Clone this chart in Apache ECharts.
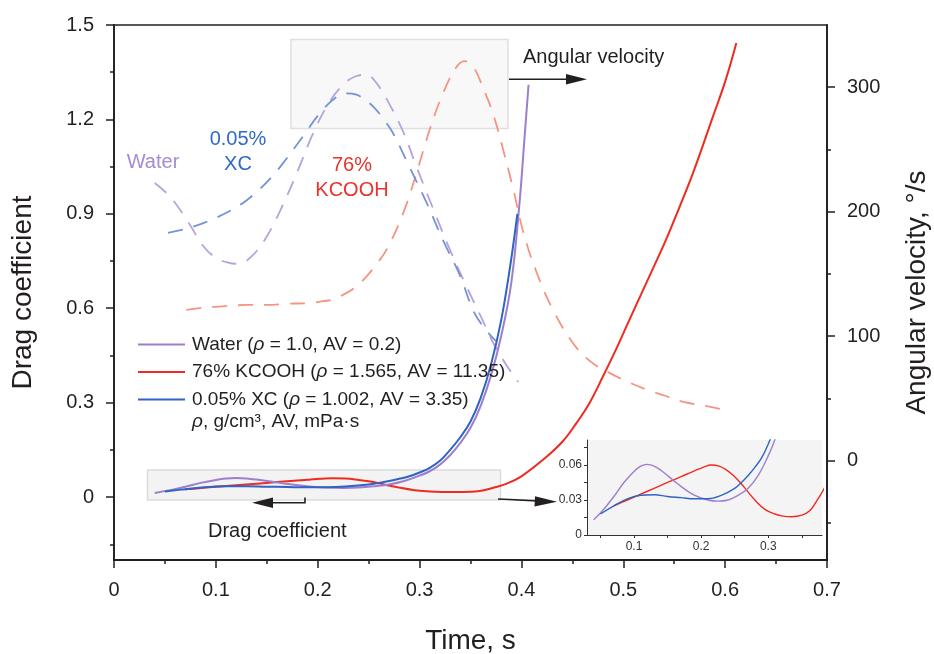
<!DOCTYPE html>
<html>
<head>
<meta charset="utf-8">
<script src="https://cdn.jsdelivr.net/npm/echarts@6/dist/echarts.min.js"></script>
<style>
html,body{margin:0;padding:0;background:#fff;}
#chart{width:934px;height:654px;}
</style>
</head>
<body>
<div id="chart"></div>
<script>
// ---------- data ----------
// Drag coefficient (left axis, solid lines)
const tWater  = [0.040,0.055,0.070,0.085,0.100,0.110,0.120,0.130,0.140,0.152,0.164,0.189,0.210,0.225,0.240,0.255,0.270,0.285,0.300,0.310,0.320,0.330,0.340,0.350,0.360,0.370,0.380,0.390,0.398,0.403,0.407];
const cdWater = [0.013,0.022,0.033,0.045,0.0545,0.059,0.0605,0.059,0.0555,0.050,0.0443,0.0343,0.030,0.029,0.030,0.034,0.040,0.051,0.068,0.082,0.103,0.133,0.172,0.220,0.290,0.385,0.510,0.680,0.930,1.140,1.310];

const tKcooh  = [0.070,0.090,0.110,0.130,0.150,0.170,0.190,0.203,0.215,0.227,0.237,0.250,0.264,0.280,0.295,0.310,0.322,0.335,0.350,0.362,0.374,0.385,0.400,0.421,0.440,0.454,0.467,0.480,0.493,0.506,0.524,0.542,0.555,0.5685,0.588,0.600,0.611];
const cdKcooh = [0.025,0.030,0.035,0.040,0.045,0.050,0.055,0.058,0.060,0.059,0.056,0.050,0.041,0.030,0.022,0.018,0.0162,0.0157,0.017,0.021,0.031,0.042,0.066,0.118,0.175,0.235,0.300,0.383,0.470,0.563,0.690,0.818,0.920,1.030,1.209,1.320,1.443];

const tXc  = [0.050,0.070,0.090,0.110,0.130,0.150,0.170,0.190,0.210,0.230,0.250,0.260,0.270,0.280,0.290,0.300,0.310,0.320,0.330,0.340,0.350,0.360,0.370,0.380,0.389,0.396];
const cdXc = [0.018,0.025,0.031,0.034,0.0345,0.033,0.032,0.031,0.031,0.034,0.040,0.045,0.051,0.058,0.066,0.078,0.093,0.115,0.150,0.190,0.240,0.315,0.420,0.560,0.735,0.900];

// Angular velocity (right axis, dashed lines)
const tWaterAV = [0.040,0.055,0.071,0.088,0.100,0.112,0.122,0.135,0.150,0.165,0.180,0.195,0.210,0.225,0.238,0.248,0.258,0.270,0.284,0.297,0.313,0.330,0.346,0.360,0.372,0.385,0.397];
const avWater  = [223,212,194,172,163,159,158,164,180,204,232,262,286,302,309,310,303,287,264,236,203,169,140,116,95,77,63];

const tKcoohAV = [0.071,0.090,0.110,0.130,0.150,0.170,0.192,0.205,0.215,0.228,0.238,0.248,0.258,0.268,0.284,0.297,0.310,0.323,0.336,0.344,0.353,0.362,0.372,0.382,0.392,0.402,0.415,0.431,0.450,0.467,0.485,0.505,0.523,0.541,0.559,0.580,0.603];
const avKcooh  = [121,123,124,125,125,126,126.5,128,129.5,134.5,140,148,158,170,199,231,266,295,316,321,316,300,279,250,218,183,151,121,95,80,71,63,57,52,47,44,40];

const tXcAV = [0.053,0.070,0.085,0.100,0.117,0.130,0.143,0.155,0.166,0.186,0.202,0.218,0.228,0.238,0.246,0.255,0.265,0.274,0.290,0.307,0.323,0.340,0.353,0.365,0.375];
const avXc  = [183,186,190,195,202,209,218,228,239,261,279,292,295,294,290,284,274,263,236,207,177,148,120,105,96];

// tick values
const leftTicks   = [0,0.3,0.6,0.9,1.2,1.5];
const leftMinor   = [-0.15,0.15,0.45,0.75,1.05,1.35];
const rightTicks  = [0,100,200,300];
const rightMinor  = [-50,50,150,250];
const insetYLabels = [0,0.03,0.06];
const insetYTicks  = [0,0.015,0.03,0.045,0.06,0.075];
const insetXLabels = [0.1,0.2,0.3];
const insetXTicks  = [0.05,0.1,0.15,0.2,0.25,0.3,0.35];

const seriesNames = ['Water','76% KCOOH','0.05% XC'];
const legendLabels = {
  'Water': '{n|Water (}{i|ρ}{n| = 1.0, AV = 0.2)}',
  '76% KCOOH': '{n|76% KCOOH (}{i|ρ}{n| = 1.565, AV = 11.35)}',
  '0.05% XC': '{n|0.05% XC (}{i|ρ}{n| = 1.002, AV = 3.35)}'
};

// ---------- chart ----------
const pairs = (ts, vs) => ts.map((t, i) => [t, vs[i]]);
const FONT = '"Liberation Sans", Arial, Helvetica, sans-serif';
const INK = '#231f20';
const C = {water:'#9d7fcb', kcooh:'#ee2b20', xc:'#2f63c4',
           waterD:'#b7a2db', kcoohD:'#f59482', xcD:'#7593d8'};
const dash = [15, 11];
const fmt1 = v => (Math.abs(v) < 1e-9 ? '0' : v.toFixed(1));
const fmt2 = v => (Math.abs(v) < 1e-9 ? '0' : v.toFixed(2));

function solid(name, data, color, xi, yi, w) {
  return {name, type:'line', xAxisIndex:xi, yAxisIndex:yi, data, smooth:0.4,
    symbol:'none', lineStyle:{color, width:w}, itemStyle:{color}, z:3, silent:true};
}
function dashed(name, data, color) {
  return {name, type:'line', xAxisIndex:0, yAxisIndex:2, data, smooth:0.4,
    symbol:'none', lineStyle:{color, width:1.8, type:dash}, itemStyle:{color}, z:2, silent:true};
}

const chart = echarts.init(document.getElementById('chart'), null, {renderer:'canvas'});

const arrowHead = (tip, dir) => {
  // dir: 1 = right, -1 = left
  const back = tip[0] - dir * 21;
  return [[tip[0], tip[1]], [back, tip[1] - 5.2], [back, tip[1] + 5.2]];
};

chart.setOption({
  animation: false,
  backgroundColor: '#fff',
  textStyle: {fontFamily: FONT},
  grid: [
    {left:114, top:25, width:713, height:535, outerBoundsMode:'none', containLabel:false,
     show:true, borderColor:INK, borderWidth:1.5, backgroundColor:'transparent'},
    {left:587, top:440, width:235, height:95, outerBoundsMode:'none', containLabel:false,
     show:true, borderWidth:0, backgroundColor:'#f4f4f4'}
  ],
  xAxis: [
    {gridIndex:0, type:'value', min:0, max:0.7, interval:0.1,
     axisLine:{onZero:false, lineStyle:{color:INK, width:1.8}},
     axisTick:{length:8, lineStyle:{color:INK, width:1.5}},
     minorTick:{show:true, splitNumber:2, length:4, lineStyle:{color:INK, width:1.5}},
     splitLine:{show:false}, minorSplitLine:{show:false},
     axisLabel:{fontSize:20, color:INK, margin:20, fontFamily:FONT, formatter:fmt1},
     name:'Time, s', nameLocation:'middle', nameGap:67,
     nameTextStyle:{fontSize:28, color:INK, fontFamily:FONT}},
    {gridIndex:1, type:'value', min:0.03, max:0.38,
     axisLine:{onZero:false, lineStyle:{color:'#333', width:1}},
     axisTick:{customValues:insetXTicks, length:3, lineStyle:{color:'#333', width:1}},
     splitLine:{show:false},
     axisLabel:{customValues:insetXLabels, fontSize:12, color:'#333', margin:6, fontFamily:FONT, formatter:fmt1}}
  ],
  yAxis: [
    {gridIndex:0, type:'value', position:'left', min:-0.2, max:1.5,
     axisLine:{show:true, onZero:false, lineStyle:{color:INK, width:1.8}},
     axisTick:{show:true, customValues:leftTicks, length:8, lineStyle:{color:INK, width:1.5}},
     axisLabel:{customValues:leftTicks, fontSize:20, color:INK, margin:20, fontFamily:FONT, formatter:fmt1},
     splitLine:{show:false},
     name:'Drag coefficient', nameLocation:'middle', nameGap:77, nameRotate:90,
     nameTextStyle:{fontSize:28, color:INK, fontFamily:FONT}},
    {gridIndex:0, type:'value', position:'left', min:-0.2, max:1.5,
     axisLine:{show:false, onZero:false},
     axisTick:{show:true, customValues:leftMinor, length:4, lineStyle:{color:INK, width:1.5}},
     axisLabel:{show:false}, splitLine:{show:false}},
    {gridIndex:0, type:'value', position:'right', min:-80, max:350,
     axisLine:{show:true, onZero:false, lineStyle:{color:INK, width:1.8}},
     axisTick:{show:true, customValues:rightTicks, length:8, lineStyle:{color:INK, width:1.5}},
     axisLabel:{customValues:rightTicks, fontSize:20, color:INK, margin:20, fontFamily:FONT},
     splitLine:{show:false},
     name:'Angular velocity, °/s', nameLocation:'middle', nameGap:76, nameRotate:90,
     nameTextStyle:{fontSize:28, color:INK, fontFamily:FONT}},
    {gridIndex:0, type:'value', position:'right', min:-80, max:350,
     axisLine:{show:false, onZero:false},
     axisTick:{show:true, customValues:rightMinor, length:4, lineStyle:{color:INK, width:1.5}},
     axisLabel:{show:false}, splitLine:{show:false}},
    {gridIndex:1, type:'value', min:0, max:0.0814,
     axisLine:{show:true, onZero:false, lineStyle:{color:'#333', width:1}},
     axisTick:{show:true, customValues:insetYTicks, length:3, lineStyle:{color:'#333', width:1}},
     axisLabel:{customValues:insetYLabels, fontSize:12, color:'#333', margin:5, fontFamily:FONT, formatter:fmt2},
     splitLine:{show:false}}
  ],
  legend: {
    data: seriesNames, orient:'vertical', left:133, top:330,
    icon:'rect', itemWidth:47, itemHeight:2, itemGap:8.5, selectedMode:false,
    formatter: n => legendLabels[n],
    textStyle: {fontSize:19, color:INK, fontFamily:FONT, padding:[0,0,0,2],
      rich: {n:{fontSize:19, color:INK, fontFamily:FONT},
             i:{fontSize:19, color:INK, fontFamily:FONT, fontStyle:'italic'}}}
  },
  series: [
    dashed('Water AV', pairs(tWaterAV, avWater), C.waterD),
    dashed('76% KCOOH AV', pairs(tKcoohAV, avKcooh), C.kcoohD),
    dashed('0.05% XC AV', pairs(tXcAV, avXc), C.xcD),
    solid('76% KCOOH', pairs(tKcooh, cdKcooh), C.kcooh, 0, 0, 2),
    solid('Water', pairs(tWater, cdWater), C.water, 0, 0, 2),
    solid('0.05% XC', pairs(tXc, cdXc), C.xc, 0, 0, 2),
    solid('76% KCOOH', pairs(tKcooh, cdKcooh), C.kcooh, 1, 4, 1.4),
    solid('Water', pairs(tWater, cdWater), C.water, 1, 4, 1.4),
    solid('0.05% XC', pairs(tXc, cdXc), C.xc, 1, 4, 1.4)
  ],
  graphic: [
    {type:'rect', z:1, silent:true, shape:{x:291, y:39.5, width:217, height:89},
     style:{fill:'#f8f8f8', stroke:'#e0e0e0', lineWidth:1.5}},
    {type:'rect', z:1, silent:true, shape:{x:147.5, y:470, width:353, height:30},
     style:{fill:'#f3f3f3', stroke:'#dcdcdc', lineWidth:1.5}},
    // series annotations
    {type:'text', z:5, style:{text:'Water', x:153, y:162, align:'center', verticalAlign:'middle', fontSize:20, fontFamily:FONT, fill:'#a68bd2'}},
    {type:'text', z:5, style:{text:'0.05%\nXC', x:238, y:152, align:'center', verticalAlign:'middle', fontSize:20, lineHeight:24.5, fontFamily:FONT, fill:'#2e6bc6'}},
    {type:'text', z:5, style:{text:'76%\nKCOOH', x:352, y:178, align:'center', verticalAlign:'middle', fontSize:20, lineHeight:25, fontFamily:FONT, fill:'#e9332b'}},
    // angular velocity arrow
    {type:'text', z:5, style:{text:'Angular velocity', x:523, y:57, align:'left', verticalAlign:'middle', fontSize:20, fontFamily:FONT, fill:INK}},
    {type:'line', z:5, shape:{x1:509, y1:79.3, x2:568, y2:79.3}, style:{stroke:INK, lineWidth:1.6}},
    {type:'polygon', z:5, shape:{points:arrowHead([587,79.3], 1)}, style:{fill:INK}},
    // drag coefficient arrow
    {type:'text', z:5, style:{text:'Drag coefficient', x:208, y:531, align:'left', verticalAlign:'middle', fontSize:20, fontFamily:FONT, fill:INK}},
    {type:'polyline', z:5, shape:{points:[[305,497.5],[305,502.7],[270,502.7]]}, style:{stroke:INK, lineWidth:1.6, fill:null}},
    {type:'polygon', z:5, shape:{points:arrowHead([252,502.7], -1)}, style:{fill:INK}},
    // arrow to inset
    {type:'line', z:5, shape:{x1:498, y1:499, x2:538, y2:500.9}, style:{stroke:INK, lineWidth:1.6}},
    {type:'polygon', z:5, shape:{points:[[557,501.7],[535,496.2],[534.5,506.6]]}, style:{fill:INK}},
    // legend footnote
    {type:'text', z:5, style:{text:'{i|ρ}{n|, g/cm³, AV, mPa·s}', x:192, y:422, verticalAlign:'middle',
      rich:{n:{fontSize:19, fontFamily:FONT, fill:INK}, i:{fontSize:19, fontFamily:FONT, fontStyle:'italic', fill:INK}}}}
  ]
});
</script>
</body>
</html>
